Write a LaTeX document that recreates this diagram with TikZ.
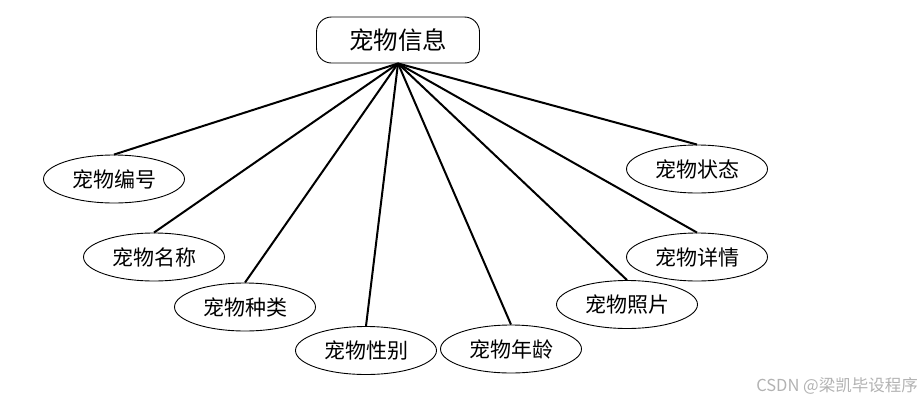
\documentclass[tikz,border=0pt]{standalone}
\usepackage{fontspec}
\usetikzlibrary{shapes.geometric}
\newfontfamily\cjk{Noto Sans CJK SC}
\tikzset{
  attr/.style={draw=black, line width=0.9pt, ellipse, minimum width=141pt, minimum height=48pt, inner sep=0pt, font=\cjk\fontsize{21}{21}\selectfont},
  entity/.style={draw=black, line width=0.9pt, rounded corners=15pt, minimum width=163pt, minimum height=46pt, inner sep=0pt, font=\cjk\fontsize{24.5}{24.5}\selectfont},
  link/.style={line width=2pt, black}
}
\begin{document}
\begin{tikzpicture}[x=1pt,y=-1pt]
\useasboundingbox (0,0) rectangle (923,405);
\node[entity] (root) at (398,40) {宠物信息};
\node[attr] (a1) at (114,179) {宠物编号};
\node[attr] (a2) at (154,257) {宠物名称};
\node[attr] (a3) at (245,307) {宠物种类};
\node[attr] (a4) at (366,350.5) {宠物性别};
\node[attr] (a5) at (511,349) {宠物年龄};
\node[attr] (a6) at (627,304.5) {宠物照片};
\node[attr] (a7) at (697,257) {宠物详情};
\node[attr] (a8) at (697,169) {宠物状态};
\foreach \n in {a1,a2,a3,a4,a5,a6,a7,a8}
  \draw[link] (root.south) -- (\n.north);
\node[anchor=east, text=black!30, font=\cjk\fontsize{16.5}{16.5}\selectfont, inner sep=0pt] (wm) at (918,386) {CSDN @梁凯毕设程序};
\end{tikzpicture}
\end{document}
